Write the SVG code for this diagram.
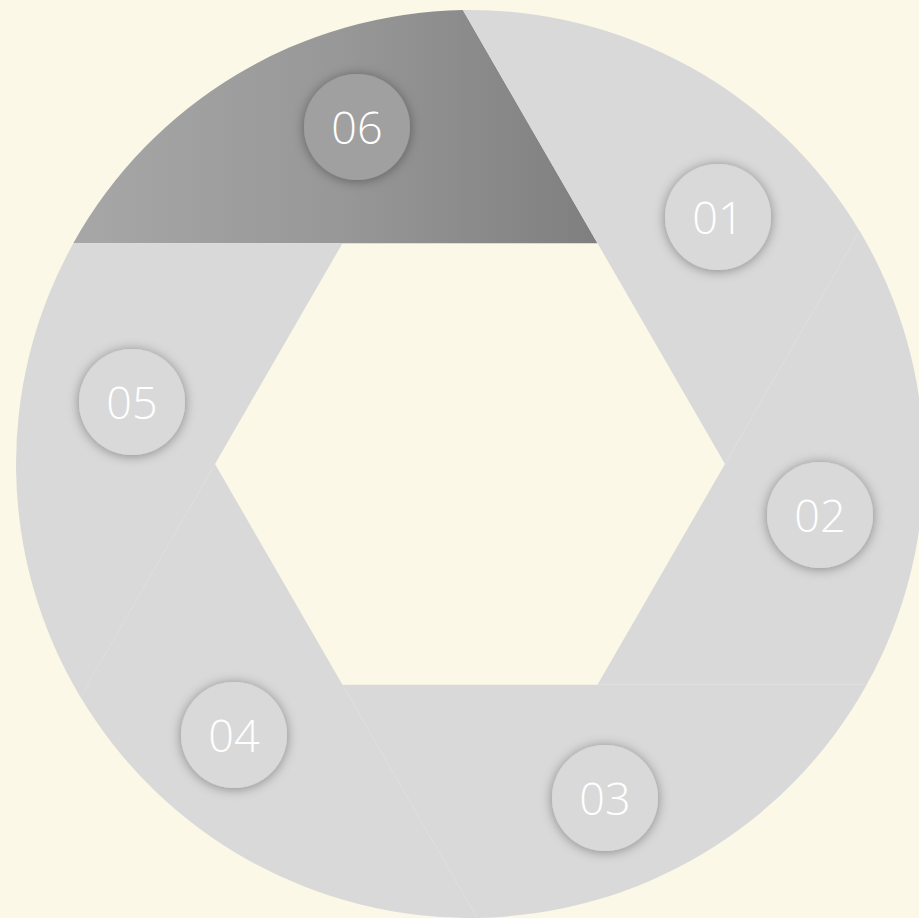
<svg xmlns="http://www.w3.org/2000/svg" width="919" height="918" viewBox="0 0 919 918">
  <defs>
    <linearGradient id="dark" gradientUnits="userSpaceOnUse" x1="73" y1="0" x2="597" y2="0">
      <stop offset="0" stop-color="#A7A7A7"/>
      <stop offset="0.5" stop-color="#989898"/>
      <stop offset="1" stop-color="#7F7F7F"/>
    </linearGradient>
    <filter id="shadow" x="-50%" y="-50%" width="200%" height="200%">
      <feDropShadow dx="0" dy="1" stdDeviation="6" flood-color="#000" flood-opacity="0.38"/>
    </filter>
    <path id="blade" d="M 73.3,243.2 L 597.5,243.2 L 462.9,10.1 A 454 454 0 0 0 73.3,243.2 Z"/>
  </defs>
  <style>
    .light { fill: #D9D9D9; }
    .badge { fill: #D9D9D9; filter: url(#shadow); }
    .num { fill: #FFFFFF; font-family: "Open Sans", "Segoe UI", "Liberation Sans", sans-serif; font-weight: 300; font-size: 45px; text-anchor: middle; }
  </style>
  <rect x="0" y="0" width="919" height="918" fill="#FCF8E7"/>
  <g id="blades">
    <use id="blade-06" href="#blade" fill="url(#dark)"/>
    <use id="blade-01" href="#blade" class="light" transform="rotate(60 470 464)"/>
    <use id="blade-02" href="#blade" class="light" transform="rotate(120 470 464)"/>
    <use id="blade-03" href="#blade" class="light" transform="rotate(180 470 464)"/>
    <use id="blade-04" href="#blade" class="light" transform="rotate(240 470 464)"/>
    <use id="blade-05" href="#blade" class="light" transform="rotate(300 470 464)"/>
  </g>
  <g id="connectors"></g>
  <g id="node-06">
    <circle cx="357" cy="127" r="53" fill="#A0A0A0" filter="url(#shadow)"/>
    <text class="num" x="357" y="144">06</text>
  </g>
  <g id="node-01">
    <circle class="badge" cx="718" cy="217" r="53"/>
    <text class="num" x="718" y="234">01</text>
  </g>
  <g id="node-02">
    <circle class="badge" cx="820" cy="515" r="53"/>
    <text class="num" x="820" y="532">02</text>
  </g>
  <g id="node-03">
    <circle class="badge" cx="605" cy="798" r="53"/>
    <text class="num" x="605" y="815">03</text>
  </g>
  <g id="node-04">
    <circle class="badge" cx="234" cy="735" r="53"/>
    <text class="num" x="234" y="752">04</text>
  </g>
  <g id="node-05">
    <circle class="badge" cx="132" cy="402" r="53"/>
    <text class="num" x="132" y="419">05</text>
  </g>
</svg>
